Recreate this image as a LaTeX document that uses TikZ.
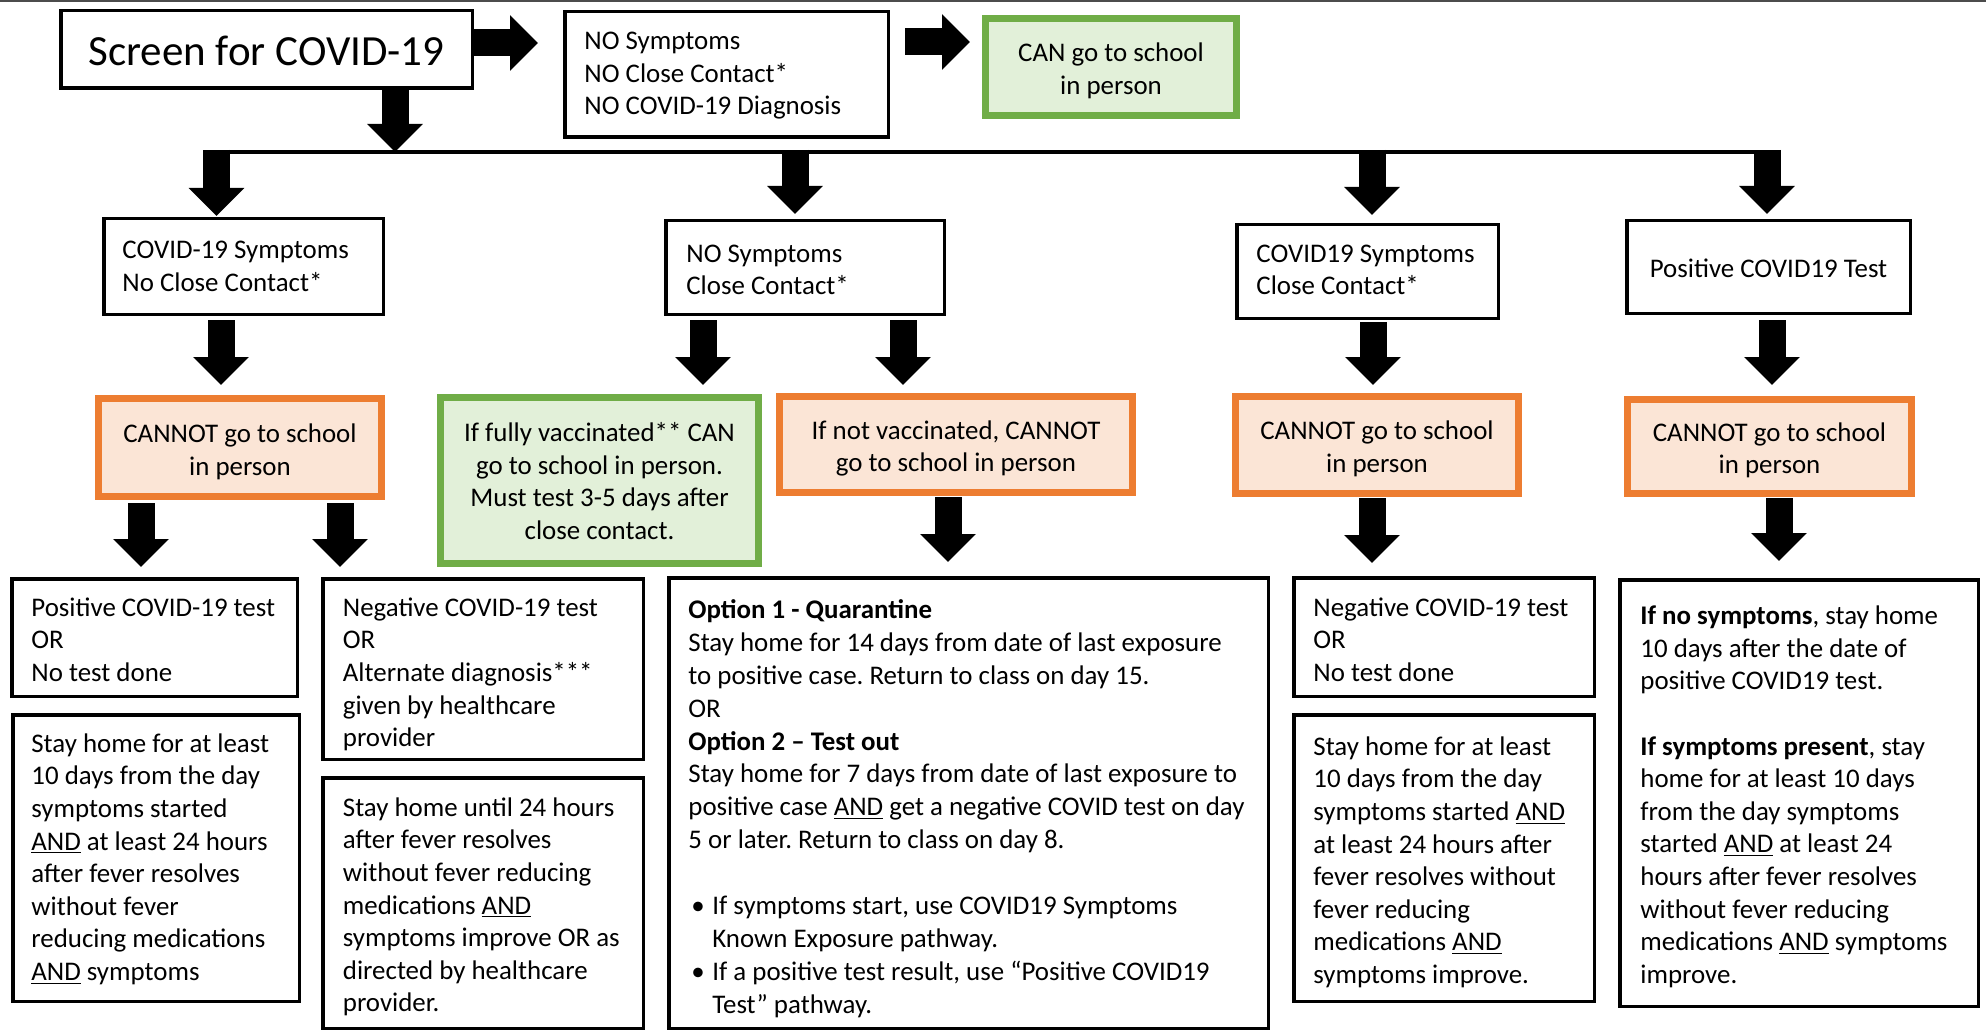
\documentclass[tikz,border=0pt]{standalone}
\usepackage{fontspec}
\setmainfont{Carlito}
\usetikzlibrary{arrows.meta,calc,fit}
\definecolor{orgB}{HTML}{ED7D31}
\definecolor{orgF}{HTML}{FBE5D6}
\definecolor{grnB}{HTML}{70AD47}
\definecolor{grnF}{HTML}{E2F0D9}
\frenchspacing
\begin{document}
\begin{tikzpicture}[x=0.5pt,y=-0.5pt,
  bbox/.style={draw=black, line width=1.75pt, inner sep=-0.875pt, fill=white},
  obox/.style={draw=orgB, fill=orgF, line width=3.5pt, inner sep=-1.75pt},
  gbox/.style={draw=grnB, fill=grnF, line width=3.5pt, inner sep=-1.75pt},
  txt/.style={inner sep=0, align=left, font=\fontsize{13.45pt}{16.3pt}\selectfont, anchor=north west},
  ctxt/.style={inner sep=0, align=center, font=\fontsize{13.45pt}{16.3pt}\selectfont},
  barrow/.style={line width=13.5pt, -{Triangle[width=27pt,length=14pt]}},
]
\fill[white] (0,0) rectangle (1986,1032);
\useasboundingbox (0,0) rectangle (1986,1032);
\draw[black!70, line width=1pt] (0,1) -- (1986,1);

% boxes
\node[bbox, fit={(59,9) (474,90)}] (scr) {};
\node[bbox, fit={(563,10) (890,139)}] (nos) {};
\node[gbox, fit={(982,15) (1240,119)}] (can) {};
\node[bbox, fit={(102,217) (385,316)}] (s1) {};
\node[bbox, fit={(664,219) (946,316)}] (s2) {};
\node[bbox, fit={(1235,223) (1500,320)}] (s3) {};
\node[bbox, fit={(1625,219) (1912,315)}] (s4) {};
\node[obox, fit={(95,395) (385,500)}] (o1) {};
\node[gbox, fit={(437,394) (762,567)}] (g2) {};
\node[obox, fit={(776,393) (1136,496)}] (o2) {};
\node[obox, fit={(1232,393) (1522,497)}] (o3) {};
\node[obox, fit={(1624,396) (1915,497)}] (o4) {};
\node[bbox, fit={(10,577) (299,698)}] (A) {};
\node[bbox, fit={(11,713) (301,1003)}] (B) {};
\node[bbox, fit={(321,577) (645,761)}] (C) {};
\node[bbox, fit={(321,776) (645,1030)}] (D) {};
\node[bbox, fit={(667,576) (1270,1030)}] (E) {};
\node[bbox, fit={(1292,576) (1596,698)}] (F) {};
\node[bbox, fit={(1292,713) (1596,1003)}] (G) {};
\node[bbox, fit={(1618,578) (1980,1008)}] (H) {};

% texts
\node[inner sep=0, font=\fontsize{21.5pt}{25pt}\selectfont] (tscr) at ($(scr.center)+(0,1)$) {Screen for COVID-19};
\node[txt] (tnos) at ($(nos.north west)+(21,16.5)$) {\strut NO Symptoms\\NO Close Contact*\\NO COVID-19 Diagnosis};
\node[ctxt] (tcan) at ($(can.center)+(0,4.5)$) {\strut CAN go to school\\in person\strut};
\node[txt] (ts1) at ($(s1.north west)+(20,18.5)$) {\strut COVID-19 Symptoms\\No Close Contact*};
\node[txt] (ts2) at ($(s2.north west)+(22,20)$) {\strut NO Symptoms\\Close Contact*};
\node[txt] (ts3) at ($(s3.north west)+(21,16)$) {\strut COVID19 Symptoms\\Close Contact*};
\node[ctxt] (ts4) at ($(s4.center)+(0,4)$) {\strut Positive COVID19 Test\strut};
\node[ctxt] (to1) at ($(o1.center)+(0,5)$) {\strut CANNOT go to school\\in person\strut};
\node[ctxt] (tg2) at ($(g2.center)+(0,3.5)$) {\strut If fully vaccinated** CAN\\go to school in person.\\Must test 3-5 days after\\close contact.\strut};
\node[ctxt] (to2) at ($(o2.center)+(0,4.5)$) {\strut If not vaccinated, CANNOT\\go to school in person\strut};
\node[ctxt] (to3) at ($(o3.center)+(0,4.5)$) {\strut CANNOT go to school\\in person\strut};
\node[ctxt] (to4) at ($(o4.center)+(0,4.5)$) {\strut CANNOT go to school\\in person\strut};
\node[txt] (tA) at ($(A.north west)+(21,16)$) {\strut Positive COVID-19 test\\OR\\No test done};
\node[txt] (tB) at ($(B.north west)+(20,16)$) {\strut Stay home for at least\\10 days from the day\\symptoms started\\\underline{AND} at least 24 hours\\after fever resolves\\without fever\\reducing medications\\\underline{AND} symptoms};
\node[txt] (tC) at ($(C.north west)+(21.5,16)$) {\strut Negative COVID-19 test\\OR\\Alternate diagnosis***\\given by healthcare\\provider};
\node[txt] (tD) at ($(D.north west)+(21.5,17)$) {\strut Stay home until 24 hours\\after fever resolves\\without fever reducing\\medications \underline{AND}\\symptoms improve OR as\\directed by healthcare\\provider.};
\node[txt, font=\fontsize{13.45pt}{16.45pt}\selectfont] (tE) at ($(E.north west)+(21,19)$) {\strut\textbf{Option 1 - Quarantine}\\Stay home for 14 days from date of last exposure\\to positive case. Return to class on day 15.\\OR\\\textbf{Option 2 – Test out}\\Stay home for 7 days from date of last exposure to\\positive case \underline{AND} get a negative COVID test on day\\5 or later. Return to class on day 8.\\\mbox{}\\\makebox[12pt][l]{\hspace{1.5pt}•}If symptoms start, use COVID19 Symptoms\\\hspace*{12pt}Known Exposure pathway.\\\makebox[12pt][l]{\hspace{1.5pt}•}If a positive test result, use “Positive COVID19\\\hspace*{12pt}Test” pathway.};
\node[txt] (tF) at ($(F.north west)+(21,17)$) {\strut Negative COVID-19 test\\OR\\No test done};
\node[txt] (tG) at ($(G.north west)+(21,19)$) {\strut Stay home for at least\\10 days from the day\\symptoms started \underline{AND}\\at least 24 hours after\\fever resolves without\\fever reducing\\medications \underline{AND}\\symptoms improve.};
\node[txt] (tH) at ($(H.north west)+(22,23.5)$) {\strut\textbf{If no symptoms}, stay home\\10 days after the date of\\positive COVID19 test.\\\mbox{}\\\textbf{If symptoms present}, stay\\home for at least 10 days\\from the day symptoms\\started \underline{AND} at least 24\\hours after fever resolves\\without fever reducing\\medications \underline{AND} symptoms\\improve.};

% bus line
\coordinate (busL) at (203,152);
\coordinate (busR) at (1781,152);
\draw[line width=2pt] (busL) -- (busR);

% arrows
\draw[barrow] ($(scr.east)+(0,-6.5)$) -- ($(nos.west |- scr.east)+(-25,-6.5)$);
\draw[barrow] ($(nos.east)+(15,-32.5)$) -- ($(can.west |- nos.east)+(-12,-32.5)$);
\draw[barrow] ($(scr.south)+(128.5,-2)$) -- ($(scr.south |- busL)+(128.5,0)$);
\draw[barrow] ($(s1.north |- busL)+(-27,-2)$) -- ($(s1.north)+(-27,-1)$);
\draw[barrow] ($(s2.north |- busL)+(-10,-2)$) -- ($(s2.north)+(-10,-5)$);
\draw[barrow] ($(s3.north |- busL)+(4.5,-2)$) -- ($(s3.north)+(4.5,-8)$);
\draw[barrow] ($(s4.north |- busL)+(-1.5,-2)$) -- ($(s4.north)+(-1.5,-5)$);
\draw[barrow] ($(s1.south)+(-22.5,4)$) -- ($(o1.north -| s1.south)+(-22.5,-10)$);
\draw[barrow] ($(s2.south)+(-102,4)$) -- ($(g2.north -| s2.south)+(-102,-9)$);
\draw[barrow] ($(s2.south)+(98,4)$) -- ($(o2.north -| s2.south)+(98,-8)$);
\draw[barrow] ($(s3.south)+(5.5,2)$) -- ($(o3.north -| s3.south)+(5.5,-8)$);
\draw[barrow] ($(s4.south)+(3.5,5)$) -- ($(o4.north -| s4.south)+(3.5,-11)$);
\draw[barrow] ($(o1.south)+(-99,3)$) -- ($(A.north -| o1.south)+(-99,-10)$);
\draw[barrow] ($(o1.south)+(100,3)$) -- ($(C.north -| o1.south)+(100,-10)$);
\draw[barrow] ($(o2.south)+(-8,1)$) -- ($(E.north -| o2.south)+(-8,-14)$);
\draw[barrow] ($(o3.south)+(-5,1)$) -- ($(F.north -| o3.south)+(-5,-13)$);
\draw[barrow] ($(o4.south)+(9.5,1)$) -- ($(H.north -| o4.south)+(9.5,-17)$);
\end{tikzpicture}
\end{document}
